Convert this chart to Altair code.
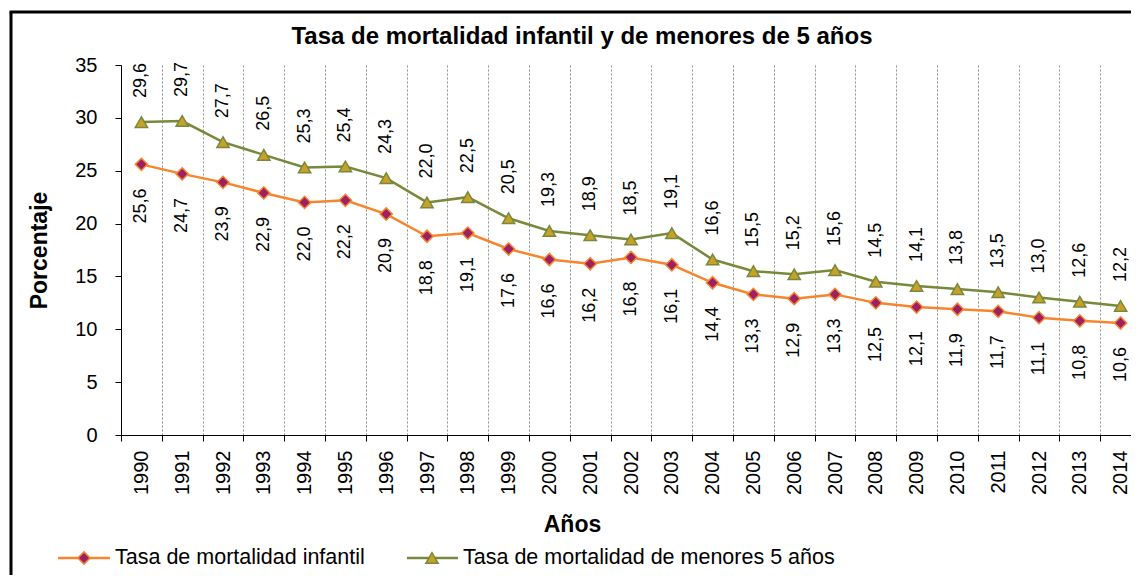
import altair as alt
import pandas as pd

years = [str(y) for y in range(1990, 2015)]
infantil = [25.6, 24.7, 23.9, 22.9, 22.0, 22.2, 20.9, 18.8, 19.1, 17.6, 16.6, 16.2, 16.8,
            16.1, 14.4, 13.3, 12.9, 13.3, 12.5, 12.1, 11.9, 11.7, 11.1, 10.8, 10.6]
menores5 = [29.6, 29.7, 27.7, 26.5, 25.3, 25.4, 24.3, 22.0, 22.5, 20.5, 19.3, 18.9, 18.5,
            19.1, 16.6, 15.5, 15.2, 15.6, 14.5, 14.1, 13.8, 13.5, 13.0, 12.6, 12.2]
series_names = ["Tasa de mortalidad infantil", "Tasa de mortalidad de menores 5 años"]
title_text = "Tasa de mortalidad infantil y de menores de 5 años"
y_ticks = [0, 5, 10, 15, 20, 25, 30, 35]

FONT = "Liberation Sans"
ORANGE = "#F5862E"
PURPLE = "#9E1F63"
OLIVE = "#77893A"
GOLD = "#C9A02A"

rows = []
for i, yr in enumerate(years):
    rows.append({"anio": yr, "valor": infantil[i], "serie": series_names[0]})
    rows.append({"anio": yr, "valor": menores5[i], "serie": series_names[1]})
df = pd.DataFrame(rows)

W, H = 1010, 370

x_enc = alt.X("anio:N", sort=years,
              scale=alt.Scale(paddingInner=0, paddingOuter=0, range=[0, 1020]),
              axis=alt.Axis(title="Años", labelAngle=-90, labelFontSize=20, labelColor="black",
                            labelPadding=9, tickSize=6, tickColor="black", tickBand="extent",
                            domainColor="black", grid=True, gridDash=[2, 2], gridColor="#8c8c8c",
                            gridWidth=1, titleFontSize=23, titleFontWeight="bold",
                            titleX=451, titleY=96, titleBaseline="alphabetic",
                            titleAlign="center", titleColor="black"))
y_enc = alt.Y("valor:Q", scale=alt.Scale(domain=[0, 35], nice=False),
              axis=alt.Axis(title="Porcentaje", values=y_ticks, labelFontSize=20,
                            labelColor="black", labelPadding=18, tickSize=6, tickColor="black",
                            domainColor="black", grid=False, titleFontSize=23,
                            titleFontWeight="bold", titleAngle=-90, titleX=-75, titleY=185,
                            titleAlign="center", titleBaseline="alphabetic", titleColor="black"))

base = alt.Chart(df)

lines = base.mark_line(strokeWidth=2.5).encode(
    x=x_enc, y=y_enc,
    color=alt.Color("serie:N", scale=alt.Scale(domain=series_names, range=[ORANGE, OLIVE]),
                    legend=None),
    detail="serie:N",
)

points = base.mark_point(filled=True, size=150, strokeWidth=1.5, opacity=1).encode(
    x=x_enc, y=y_enc,
    shape=alt.Shape("serie:N", scale=alt.Scale(domain=series_names,
                                               range=["diamond", "triangle-up"]), legend=None),
    fill=alt.Fill("serie:N", scale=alt.Scale(domain=series_names, range=[PURPLE, GOLD]),
                  legend=None),
    stroke=alt.Stroke("serie:N", scale=alt.Scale(domain=series_names, range=[ORANGE, OLIVE]),
                      legend=None),
)

label_expr = "replace(format(datum.valor, '.1f'), '.', ',')"

labels_top = base.transform_filter(
    alt.datum.serie == series_names[1]
).transform_calculate(lab=label_expr).mark_text(
    angle=270, align="left", baseline="middle", dx=24, fontSize=18, font=FONT, color="black"
).encode(x=x_enc, y=y_enc, text="lab:N")

labels_bot = base.transform_filter(
    alt.datum.serie == series_names[0]
).transform_calculate(lab=label_expr).mark_text(
    angle=270, align="right", baseline="middle", dx=-24, fontSize=18, font=FONT, color="black"
).encode(x=x_enc, y=y_enc, text="lab:N")

# legend (decoration)
leg = alt.Chart(pd.DataFrame({"serie": series_names}))
LY = 493
leg1 = leg.transform_filter(alt.datum.serie == series_names[0])
leg2 = leg.transform_filter(alt.datum.serie == series_names[1])
leg_layers = [
    leg1.mark_rule(color=ORANGE, strokeWidth=2.5).encode(
        x=alt.value(-63), x2=alt.value(-11), y=alt.value(LY)),
    leg1.mark_point(shape="diamond", filled=True, size=150, fill=PURPLE, stroke=ORANGE,
                    strokeWidth=1.5, opacity=1).encode(x=alt.value(-37), y=alt.value(LY)),
    leg1.mark_text(align="left", baseline="middle", fontSize=21.5, font=FONT, color="black").encode(
        x=alt.value(-6), y=alt.value(LY), text="serie:N"),
    leg2.mark_rule(color=OLIVE, strokeWidth=2.5).encode(
        x=alt.value(286), x2=alt.value(337), y=alt.value(LY)),
    leg2.mark_point(shape="triangle-up", filled=True, size=150, fill=GOLD, stroke=OLIVE,
                    strokeWidth=1.5, opacity=1).encode(x=alt.value(311), y=alt.value(LY)),
    leg2.mark_text(align="left", baseline="middle", fontSize=21.5, font=FONT, color="black").encode(
        x=alt.value(342), y=alt.value(LY), text="serie:N"),
]

# title + chart border (decoration)
tdf = alt.Chart(pd.DataFrame({"t": [title_text]}))
title_mark = tdf.mark_text(align="center", baseline="alphabetic", fontSize=24,
                           fontWeight="bold", font=FONT, color="black").encode(
    x=alt.value(461), y=alt.value(-21), text="t:N")
border = [
    tdf.mark_rule(color="black", strokeWidth=3).encode(
        x=alt.value(-110), y=alt.value(-53), y2=alt.value(530)),
    tdf.mark_rule(color="black", strokeWidth=3).encode(
        x=alt.value(-111.5), x2=alt.value(1040), y=alt.value(-53)),
]

chart = alt.layer(lines, points, labels_top, labels_bot, *leg_layers, title_mark,
                  *border).properties(
    width=W, height=H,
    autosize=alt.AutoSizeParams(type="none"),
    padding={"left": 113, "top": 57, "right": 0, "bottom": 140},
).configure(font=FONT).configure_view(stroke=None).configure_axis(
    labelFont=FONT, titleFont=FONT
)

chart.save("out.html", embed_options={"renderer": "svg", "actions": False})
